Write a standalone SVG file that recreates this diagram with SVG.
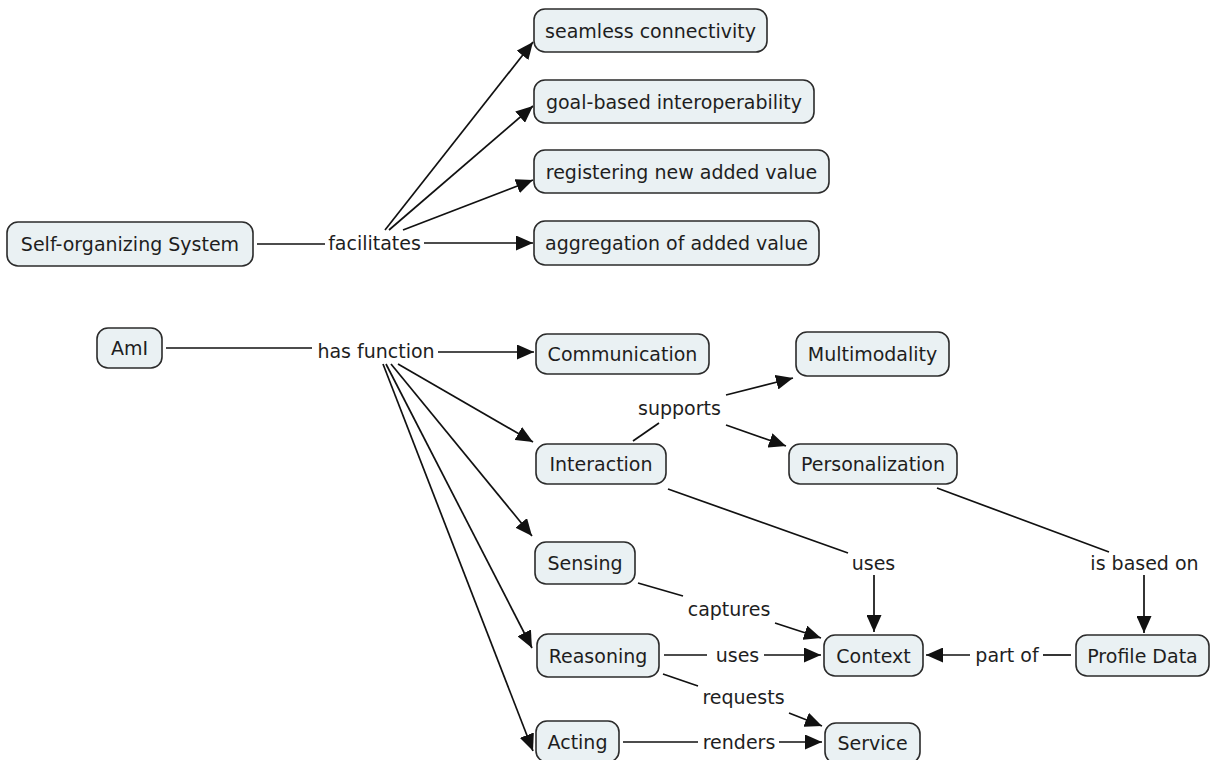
<svg xmlns="http://www.w3.org/2000/svg" width="1210" height="760" viewBox="0 0 1210 760">
  <defs>
    <marker id="arrow" markerUnits="userSpaceOnUse" markerWidth="17" markerHeight="15" refX="17" refY="7.5" orient="auto">
      <path d="M0,0 L17,7.5 L0,15 z" fill="#111"/>
    </marker>
    <style>
      .node rect { fill: #eaf1f3; stroke: #2b2b2b; stroke-width: 1.6; }
      .node text, .lbl { font-family: "DejaVu Sans", Verdana, sans-serif; font-size: 19px; fill: #1e1e1e; text-anchor: middle; dominant-baseline: central; }
      .conn line { stroke: #111; stroke-width: 1.7; }
      .conn line.arr { marker-end: url(#arrow); }
    </style>
  </defs>
  <rect width="1210" height="760" fill="#fff"/>

  <!-- connectors -->
  <g id="connectors" class="conn">
    <line x1="257" y1="244" x2="325" y2="244"/>
    <line class="arr" x1="385" y1="230" x2="533" y2="42"/>
    <line class="arr" x1="389" y1="230" x2="533" y2="106"/>
    <line class="arr" x1="403" y1="230" x2="533" y2="180"/>
    <line class="arr" x1="424" y1="243" x2="533" y2="243"/>

    <line x1="166" y1="348" x2="312" y2="348"/>
    <line class="arr" x1="438" y1="352" x2="534" y2="352"/>
    <line class="arr" x1="398" y1="364" x2="533" y2="442"/>
    <line class="arr" x1="391" y1="364" x2="532" y2="536"/>
    <line class="arr" x1="386" y1="364" x2="532" y2="648"/>
    <line class="arr" x1="383" y1="364" x2="533" y2="751"/>

    <line x1="633" y1="441" x2="659" y2="423"/>
    <line class="arr" x1="726" y1="395" x2="793" y2="378"/>
    <line class="arr" x1="726" y1="425" x2="786" y2="446"/>

    <line x1="668" y1="489" x2="848" y2="553"/>
    <line class="arr" x1="874" y1="575" x2="874" y2="632"/>
    <line x1="937" y1="488" x2="1109" y2="552"/>
    <line class="arr" x1="1144" y1="575" x2="1144" y2="633"/>

    <line x1="638" y1="583" x2="683" y2="596"/>
    <line class="arr" x1="775" y1="623" x2="821" y2="638"/>
    <line x1="664" y1="655" x2="707" y2="655"/>
    <line class="arr" x1="764" y1="655" x2="821" y2="655"/>
    <line x1="663" y1="674" x2="698" y2="686"/>
    <line class="arr" x1="789" y1="713" x2="822" y2="726"/>
    <line x1="623" y1="742" x2="698" y2="742"/>
    <line class="arr" x1="779" y1="742" x2="822" y2="742"/>
    <line x1="1071" y1="655" x2="1043" y2="655"/>
    <line class="arr" x1="970" y1="655" x2="926" y2="655"/>
  </g>

  <!-- linking phrases -->
  <g id="labels">
    <text class="lbl" x="374.5" y="243">facilitates</text>
    <text class="lbl" x="376" y="351">has function</text>
    <text class="lbl" x="679.5" y="408">supports</text>
    <text class="lbl" x="873.5" y="563">uses</text>
    <text class="lbl" x="1144.5" y="563">is based on</text>
    <text class="lbl" x="729" y="609">captures</text>
    <text class="lbl" x="737.5" y="655">uses</text>
    <text class="lbl" x="743.5" y="697">requests</text>
    <text class="lbl" x="739" y="742">renders</text>
    <text class="lbl" x="1007" y="655">part of</text>
  </g>

  <!-- concepts -->
  <g id="self-organizing-system" class="node"><rect x="7" y="222" width="246" height="44" rx="11"/><text x="130" y="244">Self-organizing System</text></g>
  <g id="seamless-connectivity" class="node"><rect x="534" y="9" width="233" height="43" rx="11"/><text x="650.5" y="30.5">seamless connectivity</text></g>
  <g id="goal-based-interoperability" class="node"><rect x="534" y="80" width="280" height="43" rx="11"/><text x="674" y="101.5">goal-based interoperability</text></g>
  <g id="registering-new-added-value" class="node"><rect x="534" y="150" width="295" height="43" rx="11"/><text x="681.5" y="171.5">registering new added value</text></g>
  <g id="aggregation-of-added-value" class="node"><rect x="534" y="221" width="285" height="44" rx="11"/><text x="676.5" y="243">aggregation of added value</text></g>

  <g id="ami" class="node"><rect x="97" y="328" width="65" height="40" rx="11"/><text x="129.5" y="348">AmI</text></g>
  <g id="communication" class="node"><rect x="536" y="334" width="173" height="40" rx="11"/><text x="622.5" y="354">Communication</text></g>
  <g id="multimodality" class="node"><rect x="796" y="332" width="153" height="44" rx="11"/><text x="872.5" y="354">Multimodality</text></g>
  <g id="interaction" class="node"><rect x="536" y="444" width="130" height="40" rx="11"/><text x="601" y="464">Interaction</text></g>
  <g id="personalization" class="node"><rect x="789" y="444" width="168" height="40" rx="11"/><text x="873" y="464">Personalization</text></g>
  <g id="sensing" class="node"><rect x="535" y="542" width="100" height="42" rx="11"/><text x="585" y="563">Sensing</text></g>
  <g id="reasoning" class="node"><rect x="537" y="634" width="122" height="43" rx="11"/><text x="598" y="655.5">Reasoning</text></g>
  <g id="context" class="node"><rect x="824" y="635" width="99" height="41" rx="11"/><text x="873.5" y="655.5">Context</text></g>
  <g id="profile-data" class="node"><rect x="1076" y="635" width="133" height="41" rx="11"/><text x="1142.5" y="655.5">Profile Data</text></g>
  <g id="acting" class="node"><rect x="536" y="721" width="83" height="41" rx="11"/><text x="577.5" y="741.5">Acting</text></g>
  <g id="service" class="node"><rect x="825" y="723" width="95" height="40" rx="11"/><text x="872.5" y="742.5">Service</text></g>
</svg>
